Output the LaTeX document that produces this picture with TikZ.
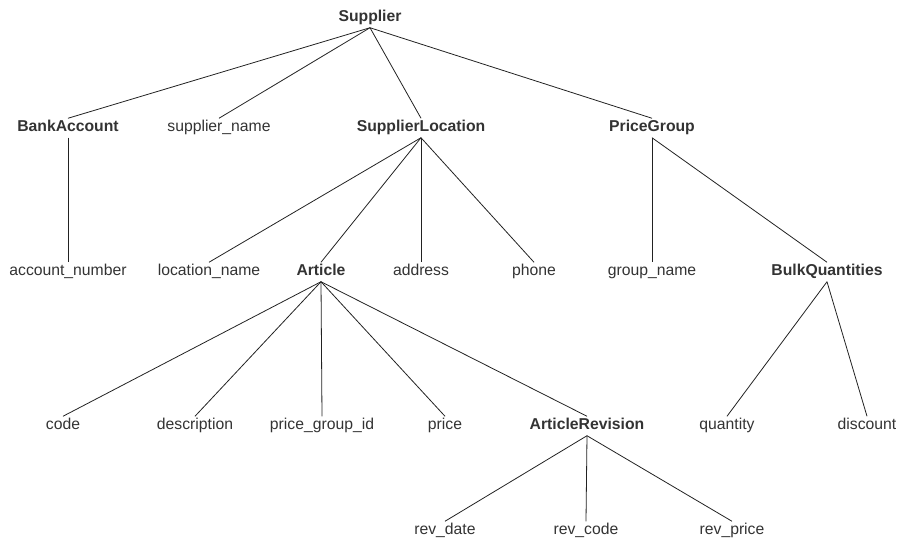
\documentclass[tikz,border=0pt]{standalone}
\usepackage{fontspec}
\setmainfont{Liberation Sans}
\definecolor{LabelGray}{RGB}{51, 51, 51}
\definecolor{EdgeGray}{RGB}{34, 34, 34}

\tikzset{
    field/.style={text=LabelGray, inner sep=1.5pt, text height=8.6pt, text depth=2.6pt,
        font=\fontsize{11.8}{14}\selectfont},
    entity/.style={field, font=\fontsize{11.8}{14}\selectfont\bfseries},
    edge/.style={EdgeGray, line width=0.6pt}
}

\begin{document}
\begin{tikzpicture}[x=0.75pt, y=-0.75pt]
    \useasboundingbox (0,0) rectangle (897,541);

    % root
    \node[entity] (supplier) at (370,18) {Supplier};

    % second level
    \node[entity] (bankaccount) at (68,128) {BankAccount};
    \node[field] (suppliername) at (219,128) {supplier\_name};
    \node[entity] (location) at (421,128) {SupplierLocation};
    \node[entity] (pricegroup) at (652,128) {PriceGroup};

    % third level
    \node[field] (accountnumber) at (68,272) {account\_number};
    \node[field] (locationname) at (209,272) {location\_name};
    \node[entity] (article) at (321,272) {Article};
    \node[field] (address) at (421,272) {address};
    \node[field] (phone) at (534,272) {phone};
    \node[field] (groupname) at (652,272) {group\_name};
    \node[entity] (bulk) at (827,272) {BulkQuantities};

    % fourth level
    \node[field] (code) at (63,426) {code};
    \node[field] (description) at (195,426) {description};
    \node[field] (pricegroupid) at (322,426) {price\_group\_id};
    \node[field] (price) at (445,426) {price};
    \node[entity] (revision) at (587,426) {ArticleRevision};
    \node[field] (quantity) at (727,426) {quantity};
    \node[field] (discount) at (867,426) {discount};

    % fifth level
    \node[field] (revdate) at (445,531) {rev\_date};
    \node[field] (revcode) at (586,531) {rev\_code};
    \node[field] (revprice) at (732,531) {rev\_price};

    % connectors
    \foreach \p/\c in {supplier/bankaccount, supplier/suppliername, supplier/location, supplier/pricegroup,
        bankaccount/accountnumber,
        location/locationname, location/article, location/address, location/phone,
        pricegroup/groupname, pricegroup/bulk,
        article/code, article/description, article/pricegroupid, article/price, article/revision,
        bulk/quantity, bulk/discount,
        revision/revdate, revision/revcode, revision/revprice}
        \draw[edge] (\p.south) -- (\c.north);
\end{tikzpicture}
\end{document}
